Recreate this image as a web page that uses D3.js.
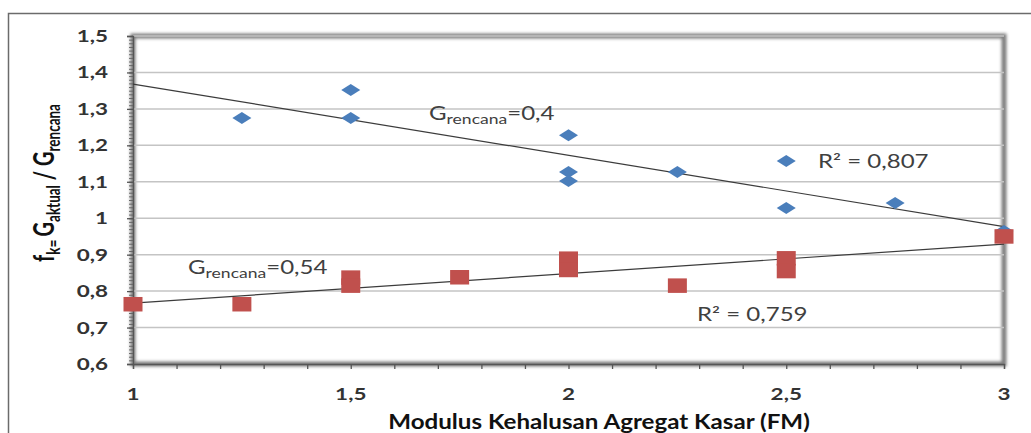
<!DOCTYPE html>
<html>
<head>
<meta charset="utf-8">
<script src="https://cdn.jsdelivr.net/npm/d3@7"></script>
<style>
  body { margin: 0; background: #fff; }
  svg text { font-family: Lato, "Open Sans", sans-serif; }
</style>
</head>
<body>
<div id="chart"></div>
<script>

// data
const FM_BLUE = [1.25, 1.5, 1.5, 2, 2, 2, 2.25, 2.5, 2.5, 2.75, 3];
const FK_BLUE = [1.275, 1.352, 1.275, 1.228, 1.127, 1.102, 1.127, 1.157, 1.028, 1.042, 0.965];

const FM_RED = [1, 1.25, 1.5, 1.5, 1.75, 2, 2, 2.25, 2.5, 2.5, 3];
const FK_RED = [0.764, 0.764, 0.837, 0.815, 0.838, 0.889, 0.858, 0.815, 0.890, 0.855, 0.950];

// trendlines, value at FM = 1 and FM = 3
const TREND_X = [1, 3];
const TREND_BLUE = [1.368, 0.977];
const TREND_RED = [0.767, 0.929];

const X_TICKS = [1, 1.5, 2, 2.5, 3];
const Y_TICKS = [0.6, 0.7, 0.8, 0.9, 1.0, 1.1, 1.2, 1.3, 1.4, 1.5];


// frame constants
const FRAME_WIDTH = 1031;
const FRAME_HEIGHT = 433;
const MARGINS = {left: 133, right: 27, top: 36, bottom: 69};
const VIS_WIDTH = FRAME_WIDTH - MARGINS.left - MARGINS.right;
const VIS_HEIGHT = FRAME_HEIGHT - MARGINS.top - MARGINS.bottom;

const SX = 1.3; // the picture is stretched sideways, so is the text

const BLUE = "#4a7ebb";
const RED = "#c0504d";
const fmt = (d) => String(d).replace(".", ",");

const FRAME = d3.select("#chart")
  .append("svg")
    .attr("width", FRAME_WIDTH)
    .attr("height", FRAME_HEIGHT);

const defs = FRAME.append("defs");
defs.append("filter").attr("id", "soft")
    .attr("x", "-5%").attr("y", "-5%").attr("width", "110%").attr("height", "110%")
  .append("feGaussianBlur").attr("stdDeviation", 1.8);

// outer border
FRAME.append("rect")
  .attr("x", 8.5).attr("y", 13.5)
  .attr("width", 1040).attr("height", 440)
  .attr("fill", "none")
  .attr("stroke", "#6b6b6b")
  .attr("stroke-width", 1.5);

const X_SCALE = d3.scaleLinear().domain([1, 3]).range([0, VIS_WIDTH]);
const Y_SCALE = d3.scaleLinear().domain([0.6, 1.5]).range([VIS_HEIGHT, 0]);

const PLOT = FRAME.append("g")
  .attr("transform", "translate(" + MARGINS.left + "," + MARGINS.top + ")");

// shaded edge of plot area
PLOT.append("rect")
  .attr("x", 0).attr("y", 0)
  .attr("width", VIS_WIDTH).attr("height", VIS_HEIGHT)
  .attr("fill", "none")
  .attr("stroke", "#7d7d7d")
  .attr("stroke-width", 5)
  .attr("filter", "url(#soft)");

// gridlines
PLOT.selectAll(".grid")
  .data(Y_TICKS.slice(1))
  .enter()
  .append("line")
    .attr("x1", 0).attr("x2", VIS_WIDTH)
    .attr("y1", (d) => Y_SCALE(d)).attr("y2", (d) => Y_SCALE(d))
    .attr("stroke", "#c4c4c4")
    .attr("stroke-width", 1.5);

// axes
const minorY = d3.range(60, 151).map((d) => d / 100);
PLOT.append("g")
  .call(d3.axisLeft(Y_SCALE).tickValues(minorY).tickSize(4).tickFormat(""))
  .call((g) => g.selectAll("line, path").attr("stroke", "#666"));
PLOT.append("g")
  .call(d3.axisLeft(Y_SCALE).tickValues(Y_TICKS).tickSize(6).tickFormat(""))
  .call((g) => g.selectAll("line, path").attr("stroke", "#555").attr("stroke-width", 1.3));

const minorX = d3.range(10, 31).map((d) => d / 10);
PLOT.append("g")
  .attr("transform", "translate(0," + VIS_HEIGHT + ")")
  .call(d3.axisBottom(X_SCALE).tickValues(minorX).tickSize(5).tickFormat(""))
  .call((g) => g.selectAll("line, path").attr("stroke", "#555").attr("stroke-width", 1.3));

// text helper, stretched like the picture
function addText(parent, x, y, parts, opts) {
  const g = parent.append("g")
    .attr("transform", "translate(" + x + "," + y + ") scale(" + (opts.sx || SX) + ",1)");
  const t = g.append("text")
    .attr("text-anchor", opts.anchor || "start")
    .attr("font-size", opts.size)
    .attr("font-weight", opts.weight || "normal")
    .attr("fill", opts.color || "#404040");
  parts.forEach((p) => {
    t.append("tspan")
      .attr("font-size", p.size || opts.size)
      .attr("dy", p.dy || 0)
      .text(p.text);
  });
  return g;
}

// tick labels
Y_TICKS.forEach((d) => {
  addText(PLOT, -25, Y_SCALE(d) + 6, [{text: fmt(d)}],
    {anchor: "end", size: 16.5, weight: "bold", color: "#333", sx: 1.36});
});
X_TICKS.forEach((d) => {
  addText(PLOT, X_SCALE(d), 400 - MARGINS.top, [{text: fmt(d)}],
    {anchor: "middle", size: 16.5, weight: "bold", color: "#333", sx: 1.36});
});

// trendlines
const line = d3.line().x((d) => X_SCALE(d[0])).y((d) => Y_SCALE(d[1]));
[TREND_BLUE, TREND_RED].forEach((tr) => {
  PLOT.append("path")
    .attr("d", line(d3.zip(TREND_X, tr)))
    .attr("fill", "none")
    .attr("stroke", "#3c3c3c")
    .attr("stroke-width", 1.2);
});

// blue diamonds
PLOT.selectAll(".blue")
  .data(d3.zip(FM_BLUE, FK_BLUE))
  .enter()
  .append("path")
    .attr("d", "M-9.5,0L0,-6L9.5,0L0,6Z")
    .attr("transform", (d) => "translate(" + X_SCALE(d[0]) + "," + Y_SCALE(d[1]) + ")")
    .attr("fill", BLUE);

// red squares
PLOT.selectAll(".red")
  .data(d3.zip(FM_RED, FK_RED))
  .enter()
  .append("rect")
    .attr("x", (d) => X_SCALE(d[0]) - 9.5)
    .attr("y", (d) => Y_SCALE(d[1]) - 7.25)
    .attr("width", 19)
    .attr("height", 14.5)
    .attr("fill", RED);

// annotations
addText(FRAME, 429, 120, [{text: "G"}, {text: "rencana", size: 13.5, dy: 4}, {text: "=0,4", dy: -4}], {size: 18.5});
addText(FRAME, 818, 168, [{text: "R² = 0,807"}], {size: 18.5});
addText(FRAME, 188, 274, [{text: "G"}, {text: "rencana", size: 13.5, dy: 4}, {text: "=0,54", dy: -4}], {size: 18.5});
addText(FRAME, 697, 321, [{text: "R² = 0,759"}], {size: 18.5});

// axis titles
addText(FRAME, 599, 429, [{text: "Modulus Kehalusan Agregat Kasar (FM)"}],
  {anchor: "middle", size: 21, weight: "bold", color: "#111", sx: 1.15});

const yTitle = FRAME.append("g")
  .attr("transform", "translate(54,183) rotate(-90) scale(1,1.38)");
const yt = yTitle.append("text")
  .attr("text-anchor", "middle")
  .attr("font-size", 20)
  .attr("font-weight", "bold")
  .attr("fill", "#111");
yt.append("tspan").text("f");
yt.append("tspan").attr("font-size", 13.5).attr("dy", 4).text("k");
yt.append("tspan").attr("font-size", 13.5).text("= ");
yt.append("tspan").attr("dy", -4).text("G");
yt.append("tspan").attr("font-size", 13.5).attr("dy", 4).text("aktual");
yt.append("tspan").attr("dy", -4).text(" / G");
yt.append("tspan").attr("font-size", 13.5).attr("dy", 4).text("rencana");

</script>
</body>
</html>
